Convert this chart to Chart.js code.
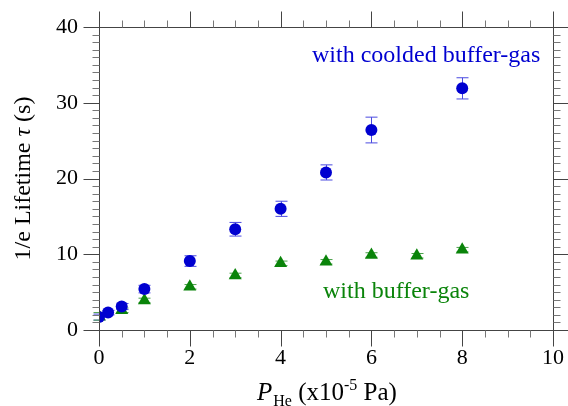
<!DOCTYPE html>
<html><head><meta charset="utf-8">
<script src="https://cdn.jsdelivr.net/npm/chart.js@4.4.0/dist/chart.umd.min.js"></script>
<style>html,body{margin:0;padding:0;background:#fff}#wrap{width:568px;height:406px}</style>
</head><body><div id="wrap"><canvas id="c" width="568" height="406"></canvas></div>
<script>
// Data
const cooledX = [0, 0.2, 0.5, 1, 2, 3, 4, 5, 6, 8];
const cooledY = [1.7, 2.3, 3.1, 5.4, 9.1, 13.3, 16.0, 20.8, 26.4, 31.9];
const cooledErr = [0.4, 0.3, 0.4, 0.5, 0.7, 0.9, 1.0, 1.0, 1.7, 1.4];
const bufferX = [0, 0.5, 1, 2, 3, 4, 5, 6, 7, 8];
const bufferY = [1.8, 2.6, 3.9, 5.7, 7.2, 8.8, 9.0, 9.9, 9.8, 10.6];
const bufferErr = [0.5, 0.3, 0.3, 0.3, 0.3, 0.3, 0.3, 0.3, 0.3, 0.3];
const xTicks = [0, 2, 4, 6, 8, 10];
const yTicks = [0, 10, 20, 30, 40];

const BLUE = '#0000d0', GREEN = '#0a840a';
const SERIF = '"Liberation Serif", "DejaVu Serif", serif';

const toPts = (xs, ys) => xs.map((x, i) => ({x, y: ys[i]}));

const framePlugin = {
  id: 'frame',
  beforeDatasetsDraw(chart) {
    const ctx = chart.ctx, xs = chart.scales.x, ys = chart.scales.y;
    const drawErr = (xsArr, yArr, eArr, color, cap) => {
      ctx.save(); ctx.strokeStyle = color; ctx.lineWidth = 1;
      xsArr.forEach((x, i) => {
        const px = Math.round(xs.getPixelForValue(x)) + 0.5;
        const y1 = ys.getPixelForValue(yArr[i] - eArr[i]);
        const y2 = ys.getPixelForValue(yArr[i] + eArr[i]);
        ctx.beginPath();
        ctx.moveTo(px, y1); ctx.lineTo(px, y2);
        ctx.moveTo(px - cap, y1); ctx.lineTo(px + cap, y1);
        ctx.moveTo(px - cap, y2); ctx.lineTo(px + cap, y2);
        ctx.stroke();
      });
      ctx.restore();
    };
    drawErr(cooledX, cooledY, cooledErr, '#4a4ae0', 6);
    drawErr(bufferX, bufferY, bufferErr, '#4aa04a', 6);
  },
  afterDraw(chart) {
    const ctx = chart.ctx, xs = chart.scales.x, ys = chart.scales.y;
    const a = chart.chartArea;
    const L = Math.round(a.left) + 0.5, R = Math.round(a.right) + 0.5;
    const T = Math.round(a.top) + 0.5, B = Math.round(a.bottom) + 0.5;
    ctx.save();
    ctx.strokeStyle = '#444'; ctx.lineWidth = 1;
    ctx.strokeRect(L, T, R - L, B - T);
    for (let v = 0; v <= 10.001; v += 0.5) {
      const major = Math.abs(v / 2 - Math.round(v / 2)) < 1e-6;
      const len = major ? 16 : 7;
      const px = Math.round(xs.getPixelForValue(v)) + 0.5;
      ctx.strokeStyle = major ? '#444' : '#777';
      ctx.beginPath();
      ctx.moveTo(px, B); ctx.lineTo(px, B + len);
      ctx.moveTo(px, T); ctx.lineTo(px, T - len);
      ctx.stroke();
    }
    for (let v = 0; v <= 40.001; v += 1) {
      const major = v % 10 === 0;
      const len = major ? 16 : 7;
      const py = Math.round(ys.getPixelForValue(v)) + 0.5;
      ctx.strokeStyle = major ? '#444' : '#777';
      ctx.beginPath();
      ctx.moveTo(L, py); ctx.lineTo(L - len, py);
      ctx.moveTo(R, py); ctx.lineTo(R + len, py);
      ctx.stroke();
    }
    ctx.textBaseline = 'alphabetic'; ctx.textAlign = 'left';
    ctx.font = '24px ' + SERIF;
    ctx.fillStyle = BLUE; ctx.fillText('with coolded buffer-gas', 312, 62);
    ctx.fillStyle = GREEN; ctx.fillText('with buffer-gas', 323, 298);
    ctx.fillStyle = '#000';
    let x = 257; const base = 400;
    const piece = (t, font, dy) => { ctx.font = font; ctx.fillText(t, x, base + dy); x += ctx.measureText(t).width; };
    piece('P', 'italic 25px ' + SERIF, 0);
    x += 1;
    piece('He', '16px ' + SERIF, 6);
    piece(' (x10', '25px ' + SERIF, 0);
    piece('-5', '16px ' + SERIF, -10);
    piece(' Pa)', '25px ' + SERIF, 0);
    ctx.save();
    ctx.translate(24, (a.top + a.bottom) / 2);
    ctx.rotate(-Math.PI / 2);
    ctx.textBaseline = 'middle';
    const parts = [['1/e Lifetime ', '24px ' + SERIF], ['\u03C4', 'italic 24px ' + SERIF], [' (s)', '24px ' + SERIF]];
    let tw = 0;
    parts.forEach(p => { ctx.font = p[1]; tw += ctx.measureText(p[0]).width; });
    let yx = -tw / 2;
    parts.forEach(p => { ctx.font = p[1]; ctx.fillText(p[0], yx, 0); yx += ctx.measureText(p[0]).width; });
    ctx.restore();
    ctx.restore();
  }
};

new Chart(document.getElementById('c'), {
  type: 'scatter',
  data: {
    datasets: [
      { label: 'with coolded buffer-gas', data: toPts(cooledX, cooledY), pointStyle: 'circle', pointRadius: 6,
        backgroundColor: BLUE, borderColor: BLUE, borderWidth: 0 },
      { label: 'with buffer-gas', data: toPts(bufferX, bufferY), pointStyle: 'triangle', pointRadius: 7.5,
        backgroundColor: GREEN, borderColor: GREEN, borderWidth: 0 }
    ]
  },
  options: {
    responsive: false, animation: false, devicePixelRatio: 1,
    layout: { padding: { top: 27, right: 15, left: 0, bottom: 0 } },
    plugins: { legend: { display: false }, tooltip: { enabled: false } },
    scales: {
      x: {
        type: 'linear', min: 0, max: 10,
        afterFit: s => { s.height = 76; s.paddingLeft = 0; s.paddingRight = 0; },
        afterBuildTicks: s => { s.ticks = xTicks.map(v => ({value: v})); },
        grid: { display: false, drawTicks: false, tickLength: 0 },
        border: { display: false },
        ticks: { font: { family: SERIF, size: 22 }, color: '#000', padding: 15, maxRotation: 0, autoSkip: false }
      },
      y: {
        type: 'linear', min: 0, max: 40,
        afterFit: s => { s.width = 99; s.paddingTop = 0; s.paddingBottom = 0; },
        afterBuildTicks: s => { s.ticks = yTicks.map(v => ({value: v})); },
        grid: { display: false, drawTicks: false, tickLength: 0 },
        border: { display: false },
        ticks: { font: { family: SERIF, size: 22 }, color: '#000', padding: 21, autoSkip: false }
      }
    }
  },
  plugins: [framePlugin]
});
</script></body></html>
